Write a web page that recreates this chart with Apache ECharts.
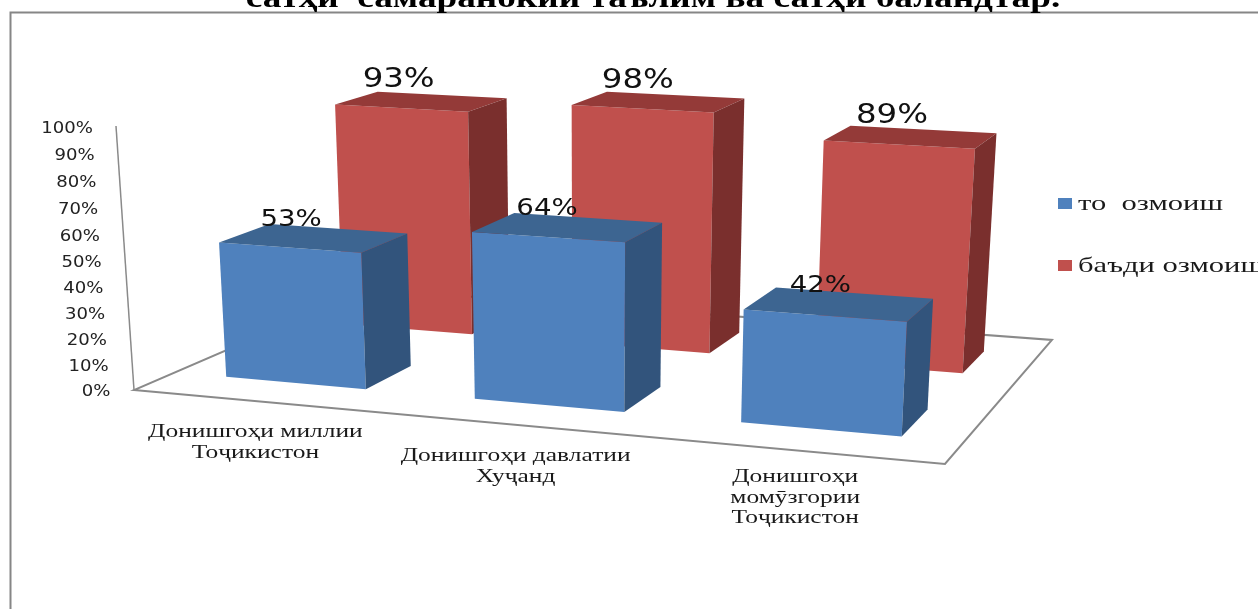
<!DOCTYPE html>
<html>
<head>
<meta charset="utf-8">
<title>chart</title>
<script src="https://cdn.jsdelivr.net/npm/echarts@6/dist/echarts.min.js"></script>
<style>
  html, body { margin: 0; padding: 0; background: #fff; overflow: hidden; }
  #main { width: 1258px; height: 609px; }
</style>
</head>
<body>
<div id="main"></div>
<script>
var categories = ['Донишгоҳи миллии\nТоҷикистон', 'Донишгоҳи давлатии\nХуҷанд', 'Донишгоҳи\nмомӯзгории\nТоҷикистон'];
var seriesNames = ['то  озмоиш', 'баъди озмоиш'];
var beforeValues = [53, 64, 42];
var afterValues = [93, 98, 89];
var yTicks = [0, 10, 20, 30, 40, 50, 60, 70, 80, 90, 100];
var titleText = 'сатҳи  самаранокии таълим ва сатҳи баландтар.';

var SANS = '"DejaVu Sans", sans-serif';
var SERIF = '"Liberation Serif", serif';

// the grid is the front edge of the floor, the 3d look is worked out from it
var gridLeft = 134, gridWidth = 811, gridTop = 127, gridBottom = 390;

// floor homography, unit square (u across, d into the picture) to pixels
function floorPoint(u, d) {
  var w = -0.1025 * u + 0.2017 * d + 1;
  return [(714.1 * u + 308.2 * d + 134) / w, (26.4 * u - 42.7 * d + 390) / w];
}

// floor point lifted by frac of the full axis height
function lift(u, d, frac) {
  var p = floorPoint(u, d);
  var h = frac * (238 + (p[1] - 330) * 0.33);
  return [p[0] + h * (p[0] - 590) / 6800, p[1] - h];
}

function quad(points, color) {
  return { type: 'polygon', shape: { points: points }, style: { fill: color, stroke: null } };
}

function frac(api, i, v) {
  return (gridBottom - api.coord([i, v])[1]) / (gridBottom - gridTop);
}

function barRenderer(dMid, colors, fontSize, labelDy) {
  return function (params, api) {
    var i = api.value(0), v = api.value(1);
    var uMid = (api.coord([i, 0])[0] - gridLeft) / gridWidth;
    var du = api.size([1, 0])[0] * 0.285 / gridWidth;
    var dd = 0.1;
    var f = frac(api, i, v);
    var u0 = uMid - du, u1 = uMid + du, d0 = dMid - dd, d1 = dMid + dd;
    var labelPos = lift(uMid, dMid, f);
    return {
      type: 'group',
      children: [
        quad([lift(u0, d0, 0), lift(u1, d0, 0), lift(u1, d0, f), lift(u0, d0, f)], colors[0]),
        quad([lift(u0, d0, f), lift(u1, d0, f), lift(u1, d1, f), lift(u0, d1, f)], colors[1]),
        quad([lift(u1, d0, 0), lift(u1, d1, 0), lift(u1, d1, f), lift(u1, d0, f)], colors[2]),
        {
          type: 'text',
          x: labelPos[0] - 21 + (uMid - 0.5) * 6,
          y: labelPos[1] + labelDy,
          scaleX: 1.2,
          style: { text: v + '%', font: fontSize + 'px ' + SANS, fill: '#111', align: 'center', verticalAlign: 'middle' }
        }
      ]
    };
  };
}

function floorRenderer(params, api) {
  var p = [floorPoint(0, 0), floorPoint(1, 0), floorPoint(1, 1), floorPoint(0, 1)];
  return {
    type: 'group',
    children: [
      { type: 'polygon', shape: { points: p }, style: { stroke: '#8a8a8a', lineWidth: 2, fill: '#fff' } },
      { type: 'line', shape: { x1: 134, y1: 390, x2: 116, y2: 126 }, style: { stroke: '#8a8a8a', lineWidth: 1.5 } }
    ]
  };
}

function tickRenderer(params, api) {
  var v = api.value(1);
  var f = frac(api, 0, v);
  var y = api.coord([0, v])[1] + 10 * f * (1 - f) + 2;
  return {
    type: 'text',
    x: 110.5 - 17.5 * f,
    y: y,
    scaleX: 1.13,
    style: { text: v + '%', font: '16px ' + SANS, fill: '#222', align: 'right', verticalAlign: 'middle' }
  };
}

function categoryRenderer(params, api) {
  var i = api.value(0);
  var u = (api.coord([i, 0])[0] - gridLeft) / gridWidth;
  var p = floorPoint(u, 0);
  // three line label sits a bit closer to the floor edge
  var gap = categories[i].split('\n').length > 2 ? 16.5 : 21;
  return {
    type: 'text',
    x: p[0] - 2,
    y: p[1] + gap,
    scaleX: 1.34,
    style: {
      text: categories[i], font: '19px ' + SERIF, fill: '#1a1a1a',
      align: 'center', verticalAlign: 'top', lineHeight: 20.5
    }
  };
}

function pairs(values) {
  return values.map(function (v, i) { return [i, v]; });
}

// legend text is stretched like the rest of the picture, the legend itself can't do that
var legendTexts = seriesNames.map(function (name, i) {
  return {
    type: 'text', z: 100, x: 1078, y: 204 + i * 62, scaleX: 1.39,
    style: { text: name, font: '22px ' + SERIF, fill: '#1a1a1a', align: 'left', verticalAlign: 'middle' }
  };
});

var myChart = echarts.init(document.getElementById('main'));
myChart.setOption({
  animation: false,
  backgroundColor: '#fff',
  grid: { left: gridLeft, width: gridWidth, top: gridTop, height: gridBottom - gridTop },
  xAxis: { type: 'category', data: categories, show: false },
  yAxis: { type: 'value', min: 0, max: 100, interval: 10, show: false },
  legend: {
    data: seriesNames,
    orient: 'vertical',
    left: 1058,
    top: 198,
    padding: 0,
    itemWidth: 14,
    itemHeight: 11,
    itemGap: 51,
    icon: 'rect',
    formatter: function () { return ''; },
    textStyle: { fontSize: 11 }
  },
  graphic: [
    { type: 'rect', z: 0, shape: { x: 10.5, y: 12.5, width: 1400, height: 800 }, style: { fill: '#fff', stroke: '#868686', lineWidth: 2 } },
    { type: 'text', z: 100, x: 653, y: -1, scaleX: 1.24, style: { text: titleText, font: 'bold 30px ' + SERIF, fill: '#000', align: 'center', verticalAlign: 'middle' } }
  ].concat(legendTexts),
  series: [
    { type: 'custom', name: 'floor', z: 1, data: [[0, 0]], renderItem: floorRenderer },
    { type: 'custom', name: 'ticks', z: 1, data: yTicks.map(function (t) { return [0, t]; }), renderItem: tickRenderer },
    { type: 'custom', name: 'labels', z: 1, data: pairs(categories.map(function () { return 0; })), renderItem: categoryRenderer },
    { type: 'custom', name: seriesNames[0], z: 3, itemStyle: { color: '#4F81BD' }, data: pairs(beforeValues), renderItem: barRenderer(0.25, ['#4F81BD', '#3D6591', '#32547C'], 23, -18) },
    { type: 'custom', name: seriesNames[1], z: 2, itemStyle: { color: '#C0504D' }, data: pairs(afterValues), renderItem: barRenderer(0.75, ['#C0504D', '#943A38', '#7A2F2D'], 27, -21) }
  ]
});
</script>
</body>
</html>
